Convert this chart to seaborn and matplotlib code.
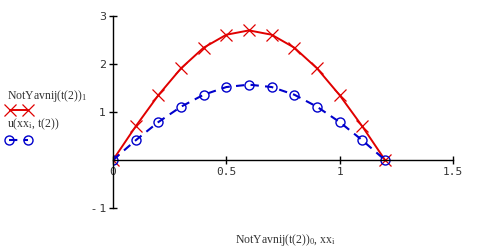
import matplotlib
matplotlib.use("Agg")
import matplotlib.pyplot as plt
from matplotlib.lines import Line2D
import seaborn as sns
import pandas as pd

# data
xx = [0.0, 0.1, 0.2, 0.3, 0.4, 0.5, 0.6, 0.7, 0.8, 0.9, 1.0, 1.1, 1.2]
red_vals = [0.0, 0.70, 1.35, 1.91, 2.34, 2.61, 2.70, 2.61, 2.34, 1.91, 1.35, 0.70, 0.0]
blue_vals = [0.0, 0.41, 0.79, 1.11, 1.36, 1.52, 1.57, 1.52, 1.36, 1.11, 0.79, 0.41, 0.0]
x_ticks = [0, 0.5, 1, 1.5]
x_tick_labels = ["0", "0.5", "1", "1.5"]
y_ticks = [-1, 1, 2, 3]
y_tick_labels = ["- 1", "1", "2", "3"]
label_red = r"NotYavnij(t(2))$_{\mathregular{1}}$"
label_blue = r"u(xx$_{\mathregular{i}}$, t(2))"
x_label = r"NotYavnij(t(2))$_{\mathregular{0}}$, xx$_{\mathregular{i}}$"

sns.set_style("white")
plt.rcParams["font.family"] = ["Liberation Serif", "DejaVu Sans"]
plt.rcParams["mathtext.fontset"] = "custom"
plt.rcParams["mathtext.rm"] = "Liberation Serif"
plt.rcParams["mathtext.it"] = "Liberation Serif"

RED = "#e00000"
BLUE = "#0000cc"

df = pd.DataFrame({"x": xx, "red": red_vals, "blue": blue_vals})

fig = plt.figure(figsize=(4.78, 2.5), dpi=100)
ax = fig.add_axes([113 / 478, 1 - 208 / 250, (453 - 113) / 478, (208 - 16) / 250])

sns.lineplot(data=df, x="x", y="red", ax=ax, color=RED, lw=1.4,
             marker="x", markersize=8, markeredgewidth=0.9, markeredgecolor=RED)
sns.lineplot(data=df, x="x", y="blue", ax=ax, color=BLUE, lw=1.5, linestyle=(0, (4, 3)),
             marker="o", markersize=6.5, markerfacecolor="none",
             markeredgewidth=1.0, markeredgecolor=BLUE)

ax.set_xlim(0, 1.5)
ax.set_ylim(-1, 3)
for s in ["top", "right"]:
    ax.spines[s].set_visible(False)
ax.spines["left"].set_position(("data", 0))
ax.spines["bottom"].set_position(("data", 0))
for s in ["left", "bottom"]:
    ax.spines[s].set_color("black")
    ax.spines[s].set_linewidth(1.0)

ax.set_xticks(x_ticks)
ax.set_xticklabels(x_tick_labels, family="DejaVu Sans Mono", fontsize=8, color="#333333")
ax.set_yticks(y_ticks)
ax.set_yticklabels(y_tick_labels, family="DejaVu Sans", fontsize=8, color="#333333")
ax.tick_params(axis="both", direction="inout", length=6, width=1.0, color="black", pad=2,
               left=True, bottom=True)
ax.set_xlabel("")
ax.set_ylabel("")
ax.grid(False)
ax.patch.set_alpha(0)

fig.text(285 / 478, 1 - 240 / 250, x_label, ha="center", va="center", fontsize=8.5, color="#333333")

# manual legend (left, outside)
fig.text(7 / 478, 1 - 96 / 250, label_red, ha="left", va="center", fontsize=8.5, color="#333333")
fig.add_artist(Line2D([10 / 478, 28 / 478], [1 - 110 / 250, 1 - 110 / 250], transform=fig.transFigure,
                      color=RED, lw=1.4, marker="x", markersize=8, markeredgewidth=0.9))
fig.text(7 / 478, 1 - 124 / 250, label_blue, ha="left", va="center", fontsize=8.5, color="#333333")
fig.add_artist(Line2D([9 / 478, 28 / 478], [1 - 140 / 250, 1 - 140 / 250], transform=fig.transFigure,
                      color=BLUE, lw=1.5, linestyle=(0, (4, 3)), marker="o", markersize=6.5,
                      markerfacecolor="none", markeredgewidth=1.0))

fig.savefig("out.png", dpi=100)
